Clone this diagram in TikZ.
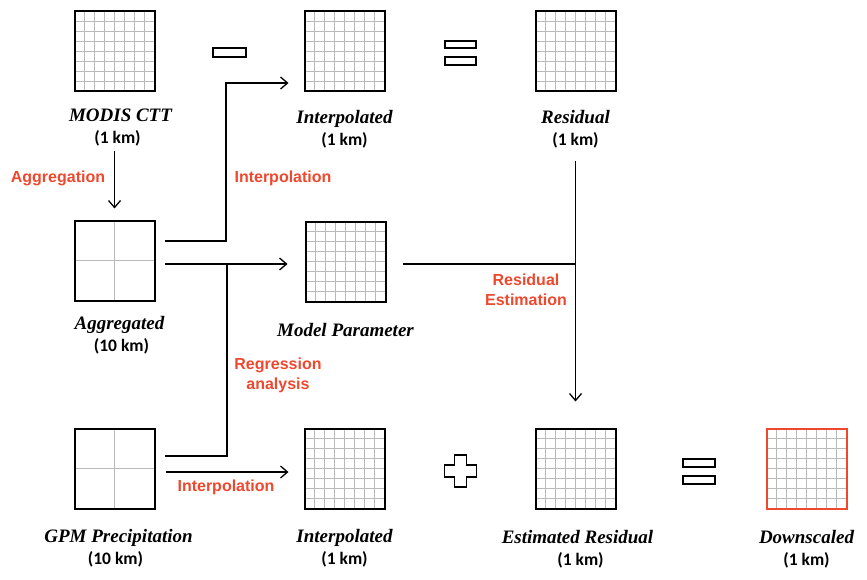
\documentclass[tikz,border=0pt]{standalone}
\usepackage{fontspec}
\setmainfont{Liberation Serif}
\setsansfont{Liberation Sans}
\newfontfamily\kmfont{Carlito}
\usetikzlibrary{arrows.meta,positioning,calc}

\definecolor{stepred}{RGB}{238,72,46}
\definecolor{cellgray}{RGB}{185,185,185}

\tikzset{
  gridbox/.style={draw, line width=2pt, minimum size=80pt, inner sep=0pt, outer sep=0pt,
    path picture={
      \foreach \k in {1,...,#1}{
        \draw[cellgray, line width=1pt]
          ($(path picture bounding box.south west)!\k/#1!(path picture bounding box.south east)$) --
          ($(path picture bounding box.north west)!\k/#1!(path picture bounding box.north east)$);
        \draw[cellgray, line width=1pt]
          ($(path picture bounding box.south west)!\k/#1!(path picture bounding box.north west)$) --
          ($(path picture bounding box.south east)!\k/#1!(path picture bounding box.north east)$);
      }}},
}

\begin{document}
\begin{tikzpicture}[x=1pt,y=-1pt,
  boxtitle/.style={font=\fontsize{19}{22}\selectfont\bfseries\itshape, inner sep=0pt, text height=13pt, text depth=4pt},
  kmtext/.style={font=\kmfont\fontsize{17.5}{20}\selectfont\bfseries, inner sep=0pt, text height=12.5pt, text depth=4pt},
  steplabel/.style={font=\sffamily\fontsize{16}{20}\selectfont\bfseries, text=stepred, align=center, inner sep=0pt},
  flowline/.style={line width=1.3pt, -{Straight Barb[length=7pt,width=12pt]}},
  joinline/.style={line width=1.3pt},
  opsign/.style={line width=1.4pt}]

\useasboundingbox (0,0) rectangle (867,580);

% TOP ROW
\node[gridbox=8] (modis) at (114.5,51.5) {};
\node[boxtitle, below=17pt of modis, xshift=6pt] (modist) {MODIS CTT};
\node[kmtext, below=5pt of modist, xshift=-3pt] (modisk) {(1 km)};

\node[gridbox=8] (itop) at (344.5,51.5) {};
\node[boxtitle, below=19pt of itop] (itopt) {Interpolated};
\node[kmtext, below=5pt of itopt] (itopk) {(1 km)};

\node[gridbox=8] (resid) at (575.5,51.5) {};
\node[boxtitle, below=19pt of resid] (residt) {Residual};
\node[kmtext, below=5pt of residt] (residk) {(1 km)};

% MIDDLE ROW
\node[gridbox=2] (agg) at (114.5,260.5) {};
\node[boxtitle, below=16pt of agg, xshift=5pt] (aggt) {Aggregated};
\node[kmtext, below=5pt of aggt, xshift=2pt] (aggk) {(10 km)};

\node[gridbox=8] (mparam) at (345.5,261.5) {};
\node[boxtitle, below=22pt of mparam] (mparamt) {Model Parameter};

% BOTTOM ROW
\node[gridbox=2] (gpm) at (114.5,468.5) {};
\node[boxtitle, below=21pt of gpm, xshift=4pt] (gpmt) {GPM Precipitation};
\node[kmtext, below=5pt of gpmt, xshift=-3pt] (gpmk) {(10 km)};

\node[gridbox=8] (ibot) at (344.5,468.5) {};
\node[boxtitle, below=21pt of ibot] (ibott) {Interpolated};
\node[kmtext, below=5pt of ibott] (ibotk) {(1 km)};

\node[gridbox=8] (estres) at (575.5,468.5) {};
\node[boxtitle, below=22pt of estres, xshift=2pt] (estrest) {Estimated Residual};
\node[kmtext, below=5pt of estrest, xshift=3pt] (estresk) {(1 km)};

\node[gridbox=8, draw=stepred] (down) at (806.5,468.5) {};
\node[boxtitle, below=22pt of down] (downt) {Downscaled};
\node[kmtext, below=5pt of downt] (downk) {(1 km)};

% OPERATORS
\draw[opsign] (213,48) rectangle (246,57);
\draw[opsign] (445,41) rectangle (476,48) (445,57) rectangle (476,65);
\draw[opsign] (454.5,455) -- ++(12,0) -- ++(0,10) -- ++(10,0) -- ++(0,12) -- ++(-10,0)
  -- ++(0,10) -- ++(-12,0) -- ++(0,-10) -- ++(-10,0) -- ++(0,-12) -- ++(10,0) -- cycle;
\draw[opsign] (683,459) rectangle (715,467) (683,476) rectangle (715,484);

% CONNECTORS
\draw[flowline] (modis |- modisk.south) ++(0,3) -- ([yshift=12pt]agg.north);
\draw[flowline] ([shift={(10.5pt,19.5pt)}]agg.east) -- ++(61pt,0) |- ([shift={(-16pt,-31.5pt)}]itop.west);
\draw[flowline] ([shift={(10.5pt,-3.5pt)}]agg.east) coordinate (aggout) -- ([shift={(-18pt,-2.5pt)}]mparam.west);
\draw[joinline] ([shift={(10.5pt,12.5pt)}]gpm.east) -| ([xshift=62pt]aggout);
\draw[flowline] ([shift={(11pt,-3.5pt)}]gpm.east) -- ([shift={(-16pt,-3.5pt)}]ibot.west);
\draw[joinline] ([shift={(17pt,-2.5pt)}]mparam.east) coordinate (mpout) -- (mpout -| resid.south);
\draw[flowline] ([yshift=-11pt]residk.south) -- ([yshift=27pt]estres.north);

% STEP LABELS
\node[steplabel] (aggl) at (58,178) {Aggregation};
\node[steplabel] (interpl) at (283,178) {Interpolation};
\node[steplabel] (regl) at (278,375) {Regression\\analysis};
\node[steplabel] (resl) at (526,290) {Residual\\Estimation};
\node[steplabel] (interpl2) at (226,487) {Interpolation};
\end{tikzpicture}
\end{document}
